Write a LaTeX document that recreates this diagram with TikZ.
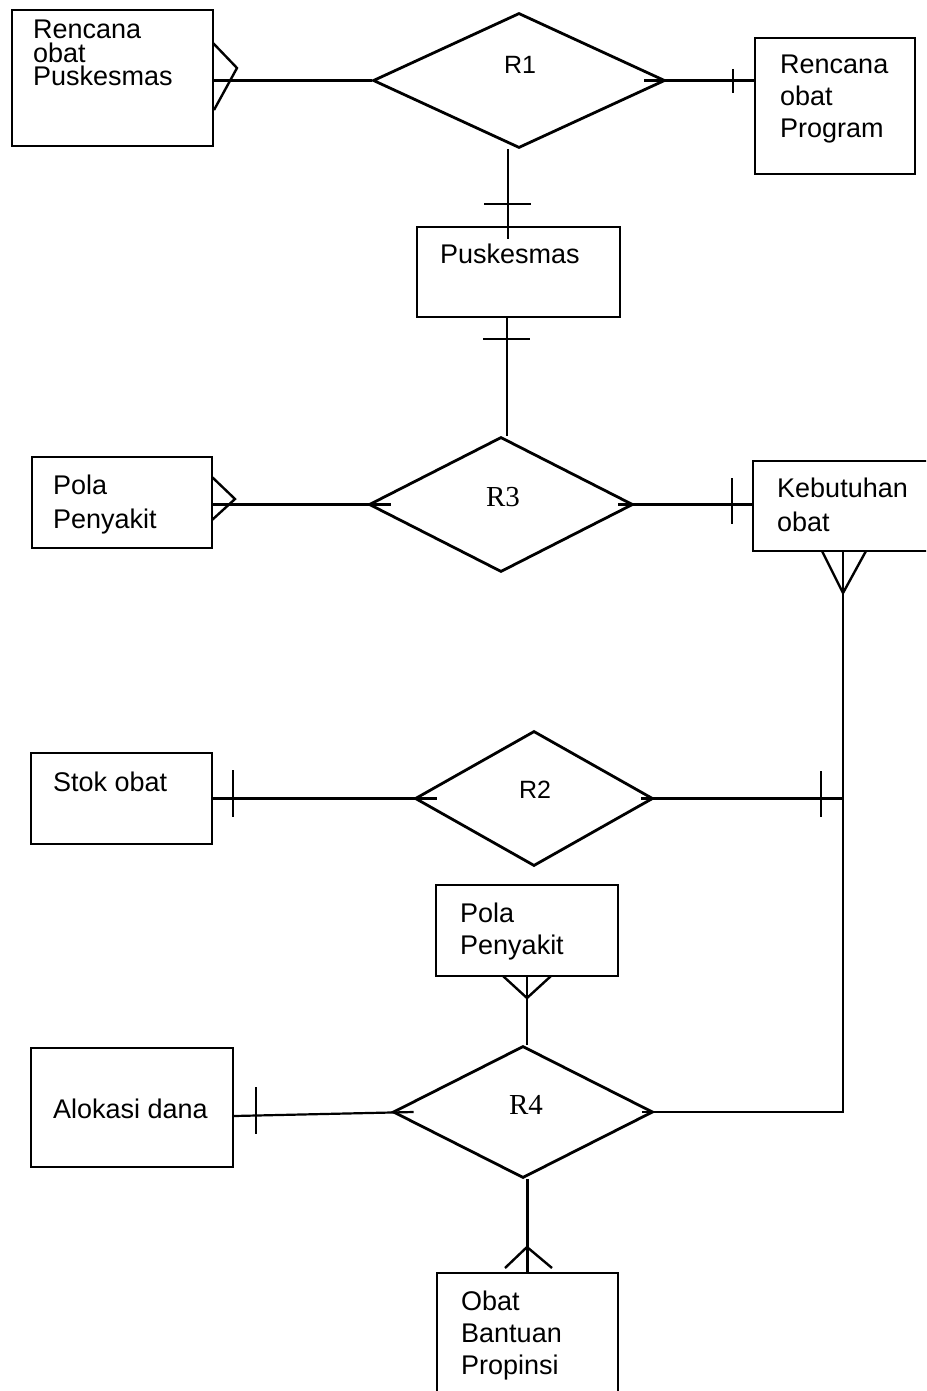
\documentclass[tikz,border=0pt]{standalone}
\usepackage{fontspec}
\setmainfont{Liberation Sans}
\newfontfamily\relserif{Liberation Serif}
\usetikzlibrary{shapes.geometric,calc}

\begin{document}
\begin{tikzpicture}[x=1pt,y=-1pt,
  ent/.style={draw,line width=2pt,rectangle,inner sep=0pt},
  rel/.style={draw,line width=2.8pt,diamond,inner sep=0pt},
  lbl/.style={inner sep=0pt,anchor=north west,align=left,font=\fontsize{27}{32}\selectfont},
  rsans/.style={inner sep=0pt,font=\fontsize{25}{28}\selectfont},
  rserif/.style={inner sep=0pt,font=\relserif\fontsize{29}{32}\selectfont},
  conn/.style={line width=2.2pt},
  tick/.style={line width=2.2pt},
  crow/.style={line width=2.4pt,line join=miter}]
\clip (0,0) rectangle (926,1391);
\fill[white] (0,0) rectangle (926,1391);

% entities
\node[ent,minimum width=201pt,minimum height=136pt] (rop)   at (112.5,78)   {};
\node[ent,minimum width=160pt,minimum height=136pt] (prog)  at (835,106)    {};
\node[ent,minimum width=203pt,minimum height=90pt]  (pusk)  at (518.5,272)  {};
\node[ent,minimum width=180pt,minimum height=91pt]  (polaA) at (122,502.5)  {};
\node[ent,minimum width=260pt,minimum height=90pt]  (keb)   at (883,506)    {};
\node[ent,minimum width=181pt,minimum height=91pt]  (stok)  at (121.5,798.5){};
\node[ent,minimum width=182pt,minimum height=91pt]  (polaB) at (527,930.5)  {};
\node[ent,minimum width=202pt,minimum height=119pt] (alok)  at (132,1107.5) {};
\node[ent,minimum width=181pt,minimum height=177pt] (obp)   at (527.5,1361.5){};

% entity names
\node[lbl,font=\fontsize{27}{23.5}\selectfont] (t-rop) at (33,20) {Rencana\\obat\\Puskesmas};
\node[lbl] (t-prog) at (780,55) {Rencana\\obat\\Program};
\node[lbl] (t-pusk) at (440,244) {Puskesmas};
\node[lbl,font=\fontsize{27}{34}\selectfont] (t-polaA) at (53,475) {Pola\\Penyakit};
\node[lbl,font=\fontsize{27}{34}\selectfont] (t-keb) at (777,478) {Kebutuhan\\obat};
\node[lbl] (t-stok) at (53,772) {Stok obat};
\node[lbl] (t-polaB) at (460,903) {Pola\\Penyakit};
\node[lbl] (t-alok) at (53,1099) {Alokasi dana};
\node[lbl] (t-obp) at (461,1291) {Obat\\Bantuan\\Propinsi};

% relationships
\node[rel,minimum width=292pt,minimum height=135pt] (r1) at (519,80.5)  {};
\node[rel,minimum width=264pt,minimum height=135pt] (r3) at (501,504.5) {};
\node[rel,minimum width=238pt,minimum height=135pt] (r2) at (534,798.5) {};
\node[rel,minimum width=260pt,minimum height=132pt] (r4) at (523,1112)  {};
\node[rsans]  (l1) at (520,65)   {R1};
\node[rserif] (l3) at (503,497)  {R3};
\node[rsans]  (l2) at (535,790)  {R2};
\node[rserif] (l4) at (526,1105) {R4};

% connectors
\draw[conn] (rop.east |- r1.west) -- (r1.west);
\draw[conn] ([xshift=-22pt]r1.east) -- (prog.west |- r1.east);
\draw[conn] ([xshift=-11pt]r1.south) -- ([xshift=-10.5pt,yshift=-13pt]pusk.north);
\draw[conn] ([xshift=-11.5pt]pusk.south) -- ([xshift=-11.5pt]pusk.south |- r3.north);
\draw[conn] (polaA.east |- r3.west) -- ([xshift=23pt]r3.west);
\draw[conn] ([xshift=-16pt]r3.east) -- (keb.west |- r3.east);
\draw[conn] (stok.east |- r2.west) -- ([xshift=23pt]r2.west);
\coordinate (j) at (843,798.5);
\draw[conn] ([xshift=-13pt]r2.east) -- (j);
\draw[conn] (keb.south -| j) -- (j |- r4.east) -- ([xshift=-12pt]r4.east);
\draw[conn] (polaB.south) -- (polaB.south |- r4.north);
\draw[conn] ([yshift=-8.5pt]alok.east) -- ([xshift=22pt]r4.west);
\draw[conn] (r4.south -| obp.north) -- (obp.north);

% cardinality: one
\draw[tick] (733,69) -- (733,93);
\draw[tick] (484,204) -- (531,204);
\draw[tick] (483,339) -- (530,339);
\draw[tick] (732,478) -- (732,524);
\draw[tick] (233,770) -- (233,817);
\draw[tick] (821,771) -- (821,817);
\draw[tick] (256,1087) -- (256,1134);

% cardinality: many
\draw[crow] (213,43) -- (237,68) -- (214,110);
\draw[crow] (212,477) -- (235,499) -- (212,520);
\draw[crow] (822,551) -- (843,593) -- (866,551);
\draw[crow] (503,976) -- (527,998) -- (551,976);
\draw[crow] (505,1268) -- (527,1247) -- (552,1268);
\end{tikzpicture}
\end{document}
